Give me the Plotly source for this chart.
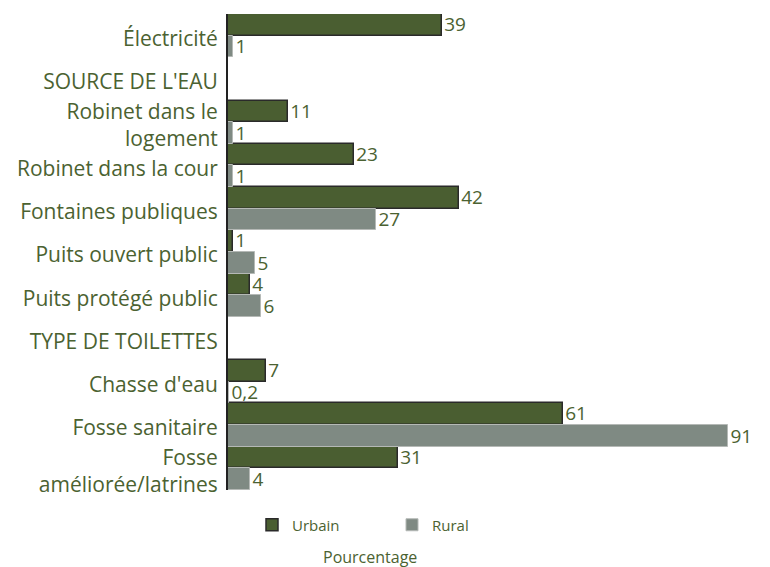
import plotly.graph_objects as go

categories = [
    "Électricité",
    "SOURCE DE L'EAU",
    "Robinet dans le<br>logement",
    "Robinet dans la cour",
    "Fontaines publiques",
    "Puits ouvert public",
    "Puits protégé public",
    "TYPE DE TOILETTES",
    "Chasse d'eau",
    "Fosse sanitaire",
    "Fosse<br>améliorée/latrines",
]
urbain = [39, None, 11, 23, 42, 1, 4, None, 7, 61, 31]
rural = [1, None, 1, 1, 27, 5, 6, None, 0.2, 91, 4]


def fmt(v):
    if v is None:
        return ""
    return str(v).replace(".", ",")


GREEN_TXT = "#4b6231"
FONT = "Open Sans"
OFF = 8  # page body margin offset

L, T, B_Y = 228 - OFF, 14 - OFF, 490 - OFF
PW = 95 * 500 / 91
PH = B_Y - T

fig = go.Figure()
fig.add_trace(go.Bar(
    y=categories, x=urbain, orientation="h", name="Urbain",
    marker=dict(color="#4a5e31", line=dict(color="#2a2a2a", width=1.5)),
    text=[fmt(v) for v in urbain], textposition="outside",
    textfont=dict(color=GREEN_TXT, size=19, family=FONT),
    constraintext="none", cliponaxis=False,
))
fig.add_trace(go.Bar(
    y=categories, x=rural, orientation="h", name="Rural",
    marker=dict(color="#7f8a83", line=dict(color="#b5b9b6", width=1)),
    text=[fmt(v) for v in rural], textposition="outside",
    textfont=dict(color=GREEN_TXT, size=19, family=FONT),
    constraintext="none", cliponaxis=False,
))

fig.update_layout(
    width=770, height=567,
    margin=dict(l=L, r=770 - L - PW, t=T, b=567 - B_Y, autoexpand=False),
    barmode="group", bargap=0, bargroupgap=0,
    plot_bgcolor="white", paper_bgcolor="white",
    font=dict(family=FONT, color=GREEN_TXT),
    showlegend=True,
    legend=dict(
        orientation="h", xref="container", yref="container",
        x=244 / 770, y=1 - (525 - OFF) / 567, yanchor="middle", xanchor="left",
        entrywidth=95,
        font=dict(size=15, color=GREEN_TXT, family=FONT),
    ),
)
fig.update_xaxes(range=[0, 95], showgrid=False, zeroline=False, automargin=False,
                 showticklabels=False, showline=False, ticks="")
fig.update_yaxes(autorange="reversed", showgrid=False, showline=True, automargin=False,
                 linecolor="#222222", linewidth=2, ticks="",
                 ticklabelstandoff=4, ticklabelshift=-3,
                 tickfont=dict(size=21, color=GREEN_TXT, family=FONT))
fig.add_annotation(text="Pourcentage", xref="paper", yref="paper",
                   x=(370 - 228) / PW, y=(B_Y - (557 - OFF)) / PH,
                   xanchor="center", yanchor="middle",
                   showarrow=False, font=dict(size=16, color=GREEN_TXT, family=FONT))

fig.write_html("out.html")
